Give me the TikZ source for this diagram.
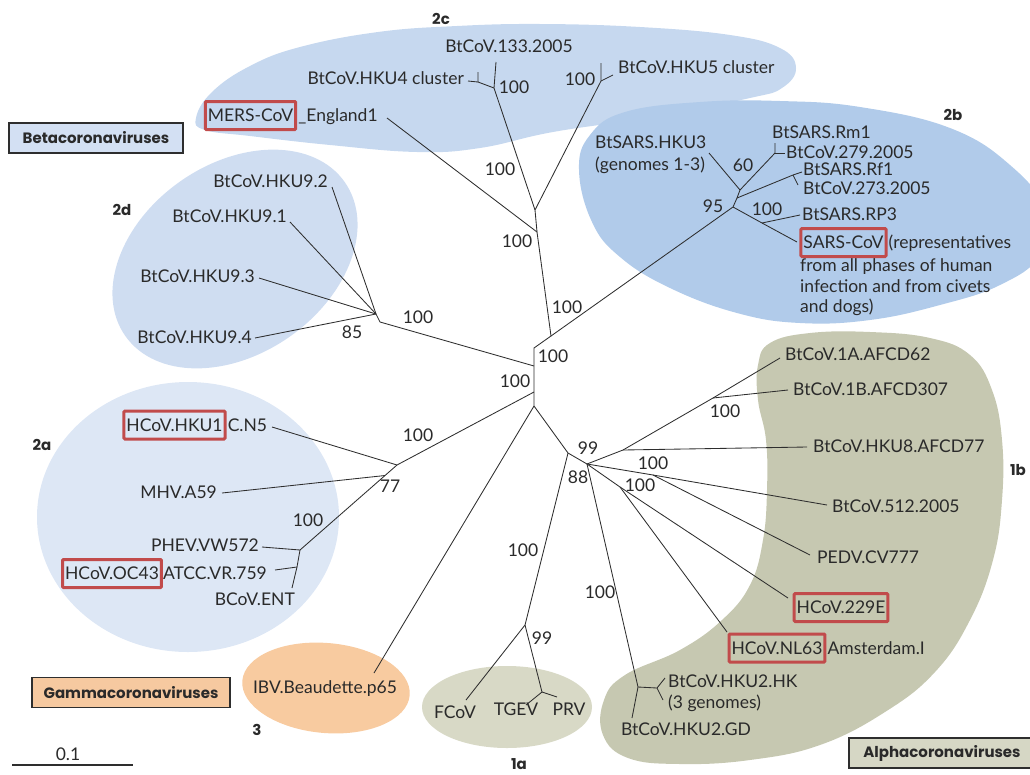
\documentclass[tikz,border=0pt]{standalone}
\usepackage{fontspec}
\setmainfont{Lato}
\newfontfamily\popf{Poppins}
\definecolor{linec}{HTML}{2E2E2E}
\definecolor{txt}{HTML}{2A2A2A}
\definecolor{bcC}{HTML}{C6D8EF}
\definecolor{bcB}{HTML}{B1CBEA}
\definecolor{bcD}{HTML}{CFDDF1}
\definecolor{bcA}{HTML}{DDE7F5}
\definecolor{orC}{HTML}{F8CBA0}
\definecolor{olA}{HTML}{D8D9C6}
\definecolor{olB}{HTML}{C6C8B1}
\definecolor{redc}{HTML}{C14B4B}
\definecolor{betaF}{HTML}{D3E0F3}
\definecolor{gamF}{HTML}{F6C9A0}
\definecolor{alpF}{HTML}{D6D7C5}
\newcommand\lf{\fontsize{17.5}{20.5}\selectfont}
\newcommand\bff{\fontsize{15}{20.5}\selectfont\popf\bfseries}
\newcommand\gbf{\fontsize{15}{20}\selectfont\popf\bfseries}
\begin{document}
\begin{tikzpicture}[x=1pt,y=-1pt,
  br/.style={draw=linec,line width=0.85pt},
  lab/.style={font=\lf,text=txt,inner sep=0pt},
  grp/.style={font=\bff,text=txt,inner sep=0pt},
  redbox/.style={draw=redc,line width=3pt,font=\lf,text=txt,inner xsep=2.5pt,inner ysep=0pt,minimum height=28pt,rounded corners=1pt},
  gbox/.style={draw=linec,line width=1.2pt,font=\gbf,text=txt,inner sep=0pt,minimum height=30pt}]
\useasboundingbox (0,0) rectangle (1030,774);
% ---------- blobs ----------
\begin{scope}
\clip (0,0) rectangle (1030,774);
\fill[bcC] plot[smooth cycle,tension=0.7] coordinates {(196,118) (212,92) (250,66) (300,47) (378,32) (457,26) (540,24) (640,27) (730,35) (780,48) (796,68) (782,88) (750,98) (653,117) (553,132) (480,148) (417,152) (330,145) (250,136) (205,130)};
\fill[bcB] plot[smooth cycle,tension=0.7] coordinates {(579,170) (590,135) (625,112) (700,102) (780,101) (860,107) (950,128) (1010,165) (1045,210) (1040,255) (1000,285) (940,305) (870,320) (800,323) (737,313) (670,288) (620,257) (592,222)};
\fill[bcD,rotate around={35:(235,259)}] (235,259) ellipse [x radius=134,y radius=95];
\fill[bcA] (188,517) ellipse [x radius=151,y radius=135];
\fill[orC,rotate around={-5:(326,688)}] (326,688) ellipse [x radius=84,y radius=45];
\fill[olA] (507,707) ellipse [x radius=85,y radius=41];
\fill[olB] plot[smooth cycle,tension=0.7] coordinates {(770,343) (810,333) (870,332) (930,338) (970,355) (992,390) (1002,440) (1002,500) (993,560) (970,620) (935,672) (885,712) (820,745) (750,760) (680,764) (628,758) (603,735) (604,700) (625,675) (680,650) (722,620) (750,585) (763,540) (767,490) (766,440) (758,400) (758,365)};
\end{scope}
% ---------- tree coordinates ----------
\coordinate (A) at (534,348);
\coordinate (B) at (551,336);
\coordinate (D2d) at (534,366);
\coordinate (D2a) at (534,392);
\coordinate (C) at (534,406);
\coordinate (N2c) at (537,232);
\coordinate (N2ct) at (535,210);
\coordinate (NH4) at (494,88);
\coordinate (p133) at (496,62);
\coordinate (H4f) at (478,82);
\coordinate (H4a) at (478,72);
\coordinate (H4b) at (468,81);
\coordinate (H5f) at (601,81);
\coordinate (H5a) at (601,63);
\coordinate (H5b) at (613,75);
\coordinate (pMERS) at (387,118);
\coordinate (N2b) at (733,207);
\coordinate (N2bA) at (737,198);
\coordinate (N2bB) at (740,190);
\coordinate (pHKU3) at (709,153);
\coordinate (Rmf) at (775,153);
\coordinate (Rma) at (775,143);
\coordinate (Rmb) at (785,153);
\coordinate (Rff) at (793,175);
\coordinate (Rfa) at (802,172);
\coordinate (Rfb) at (798,185);
\coordinate (NRP) at (762,223);
\coordinate (pRP3) at (800,215);
\coordinate (pSARS) at (797,242);
\coordinate (N2d) at (380,322);
\coordinate (N2dI) at (376,314);
\coordinate (p92) at (332,187);
\coordinate (p91) at (290,222);
\coordinate (p93) at (259,278);
\coordinate (p94) at (255,338);
\coordinate (N2a) at (397,465);
\coordinate (Nmhv) at (385,475.5);
\coordinate (NPH) at (300,550);
\coordinate (NAT) at (297,567);
\coordinate (pHKU1) at (272,427);
\coordinate (pMHV) at (222,493);
\coordinate (pPHEV) at (262,547);
\coordinate (pATCC) at (275,570);
\coordinate (pBCoV) at (292,588);
\coordinate (pIBV) at (374,673);
\coordinate (N1) at (568,453);
\coordinate (N1a) at (525,625);
\coordinate (NTP) at (542,692);
\coordinate (pFCoV) at (466,700);
\coordinate (pTGEV) at (526,705);
\coordinate (pPRV) at (557,697);
\coordinate (N1b) at (587,464);
\coordinate (NAF) at (623,450);
\coordinate (N1AB) at (713,398);
\coordinate (p1A) at (780,358);
\coordinate (p1B) at (788,390);
\coordinate (pHKU8) at (807,447);
\coordinate (N512) at (653,475);
\coordinate (p512) at (827,505);
\coordinate (pPEDV) at (810,555);
\coordinate (N229) at (620,487);
\coordinate (p229) at (788,598);
\coordinate (pNL63) at (727,632);
\coordinate (NH2) at (638,687);
\coordinate (pGD) at (632,718);
\coordinate (NHK) at (657,688);
\coordinate (HKa) at (665,678);
\coordinate (HKb) at (663,700);
\coordinate (sb1) at (12,765);
\coordinate (sb2) at (133,765);
% ---------- branches ----------
\draw[br] (B) -- (A) -- (D2d) -- (D2a) -- (C);
\draw[br] (B) -- (N2c) -- (N2ct) -- (NH4) -- (p133);
\draw[br] (NH4) -- (H4f) -- (H4a);
\draw[br] (H4f) -- (H4b);
\draw[br] (N2ct) -- (H5f) -- (H5a);
\draw[br] (H5f) -- (H5b);
\draw[br] (N2c) -- (pMERS);
\draw[br] (B) -- (N2b) -- (N2bA) -- (N2bB) -- (pHKU3);
\draw[br] (N2bB) -- (Rmf) -- (Rma);
\draw[br] (Rmf) -- (Rmb);
\draw[br] (N2bA) -- (Rff) -- (Rfa);
\draw[br] (Rff) -- (Rfb);
\draw[br] (N2b) -- (NRP) -- (pSARS);
\draw[br] (NRP) -- (pRP3);
\draw[br] (D2d) -- (N2d) -- (N2dI) -- (p92);
\draw[br] (N2dI) -- (p91);
\draw[br] (N2dI) -- (p93);
\draw[br] (N2dI) -- (p94);
\draw[br] (D2a) -- (N2a) -- (pHKU1);
\draw[br] (N2a) -- (Nmhv) -- (NPH) -- (pPHEV);
\draw[br] (Nmhv) -- (pMHV);
\draw[br] (NPH) -- (NAT) -- (pBCoV);
\draw[br] (NAT) -- (pATCC);
\draw[br] (C) -- (pIBV);
\draw[br] (C) -- (N1) -- (N1b);
\draw[br] (N1) -- (N1a) -- (pFCoV);
\draw[br] (N1a) -- (NTP) -- (pTGEV);
\draw[br] (NTP) -- (pPRV);
\draw[br] (N1b) -- (NAF) -- (pHKU8);
\draw[br] (NAF) -- (N1AB) -- (p1A);
\draw[br] (N1AB) -- (p1B);
\draw[br] (N1b) -- (N512) -- (p512);
\draw[br] (N512) -- (pPEDV);
\draw[br] (N1b) -- (N229) -- (p229);
\draw[br] (N229) -- (pNL63);
\draw[br] (N1b) -- (NH2) -- (pGD);
\draw[br] (NH2) -- (NHK) -- (HKa);
\draw[br] (NHK) -- (HKb);
\draw[draw=linec,line width=2.4pt] (sb1) -- (sb2);
% ---------- labels ----------
\node[grp] (l2c) at (441,19) {2c};
\node[lab,anchor=base] (t133) at (509,52.5) {BtCoV.133.2005};
\node[lab,anchor=base east] (tH4) at (464,84.5) {BtCoV.HKU4 cluster};
\node[lab] (b1) at (514,87) {100};
\node[lab] (b2) at (580,79) {100};
\node[lab,anchor=base west] (tH5) at (618,73.5) {BtCoV.HKU5 cluster};
\node[redbox] (bMERS) at (250.5,115.5) {MERS-CoV};
\node[lab,anchor=base west] (tEng) at ([xshift=1pt]bMERS.base east) {\_England1};
\node[gbox,minimum width=174pt,fill=betaF] (gBeta) at (96,138) {Betacoronaviruses};
\node[lab] (b3) at (500,169) {100};
\node[lab] (b4) at (517,241) {100};
\node[lab] (b5) at (567,307) {100};
\node[lab] (b6) at (553,356) {100};
\node[lab] (b7) at (515,381) {100};
\node[grp] (l2b) at (953,115) {2b};
\node[lab,anchor=base west,align=left,font=\fontsize{17.5}{22}\selectfont] (tHKU3) at (595,170.5) {BtSARS.HKU3\\(genomes 1-3)};
\node[lab] (b8) at (743,165) {60};
\node[lab,anchor=base west] (tRm1) at (772,138.5) {BtSARS.Rm1};
\node[lab,anchor=base west] (t279) at (786,158.5) {BtCoV.279.2005};
\node[lab,anchor=base west] (tRf1) at (803,175.5) {BtSARS.Rf1};
\node[lab,anchor=base west] (t273) at (803,194.5) {BtCoV.273.2005};
\node[lab] (b9) at (713,206) {95};
\node[lab] (b10) at (767,209) {100};
\node[lab,anchor=base west] (tRP3) at (802,220.5) {BtSARS.RP3};
\node[redbox] (bSARS) at (843.5,242.5) {SARS-CoV};
\node[lab,anchor=base west] (tRep) at ([xshift=1pt]bSARS.base east) {(representatives};
\node[lab,anchor=base west,align=left] (tRep2) at (800,312.5) {from all phases of human\\infection and from civets\\and dogs)};
\node[grp] (l2d) at (122,210) {2d};
\node[lab,anchor=base east] (t92) at (328,187.5) {BtCoV.HKU9.2};
\node[lab,anchor=base east] (t91) at (287,222.5) {BtCoV.HKU9.1};
\node[lab,anchor=base east] (t93) at (255,282.5) {BtCoV.HKU9.3};
\node[lab,anchor=base east] (t94) at (252,343.5) {BtCoV.HKU9.4};
\node[lab] (b11) at (352,332) {85};
\node[lab] (b12) at (418,317) {100};
\node[grp] (l2a) at (42,445) {2a};
\node[redbox] (bHKU1) at (174.5,425) {HCoV.HKU1};
\node[lab,anchor=base west] (tCN5) at ([xshift=1pt]bHKU1.base east) {C.N5};
\node[lab] (b13) at (418,435) {100};
\node[lab,anchor=base east] (tMHV) at (217,498.5) {MHV.A59};
\node[lab] (b14) at (390,486) {77};
\node[lab] (b15) at (308,520) {100};
\node[lab,anchor=base east] (tPHEV) at (259,551.5) {PHEV.VW572};
\node[redbox] (bOC43) at (112,573.5) {HCoV.OC43};
\node[lab,anchor=base west] (tATCC) at ([xshift=0pt]bOC43.base east) {ATCC.VR.759};
\node[lab,anchor=base east] (tBCoV) at (295,605.5) {BCoV.ENT};
\node[lab,anchor=base] (tIBV) at (325,693.5) {IBV.Beaudette.p65};
\node[grp] (l3) at (257,730) {3};
\node[gbox,minimum width=198pt,fill=gamF] (gGam) at (131,692.5) {Gammacoronaviruses};
\node[lab] (tsc) at (68,754) {0.1};
\node[lab,anchor=base] (tFCoV) at (455,718.5) {FCoV};
\node[lab,anchor=base] (tTGEV) at (516,715.5) {TGEV};
\node[lab,anchor=base] (tPRV) at (569,715.5) {PRV};
\node[lab] (b16) at (542,638) {99};
\node[grp] (l1a) at (519,764) {1a};
\node[lab] (b17) at (523,550) {100};
\node[lab] (b18) at (600,592) {100};
\node[lab,anchor=base west,align=left,font=\fontsize{17.5}{21}\selectfont] (tHK) at (668,708.5) {BtCoV.HKU2.HK\\(3 genomes)};
\node[lab,anchor=base] (tGD) at (686,735.5) {BtCoV.HKU2.GD};
\node[redbox] (bNL63) at (777,648) {HCoV.NL63};
\node[lab,anchor=base west] (tAms) at ([xshift=1pt]bNL63.base east) {Amsterdam.I};
\node[redbox] (b229) at (841,607.5) {HCoV.229E};
\node[gbox,minimum width=186pt,fill=alpF] (gAlp) at (942,753) {Alphacoronaviruses};
\node[grp] (l1b) at (1018,470) {1b};
\node[lab,anchor=base west] (t1A) at (785,360.5) {BtCoV.1A.AFCD62};
\node[lab,anchor=base west] (t1B) at (793,395.5) {BtCoV.1B.AFCD307};
\node[lab,anchor=base west] (tHKU8) at (813,452.5) {BtCoV.HKU8.AFCD77};
\node[lab,anchor=base west] (t512) at (832,512.5) {BtCoV.512.2005};
\node[lab,anchor=base west] (tPEDV) at (817,563.5) {PEDV.CV777};
\node[lab] (b19) at (725,411) {100};
\node[lab] (b20) at (588,448) {99};
\node[lab] (b21) at (653,463) {100};
\node[lab] (b22) at (578,477) {88};
\node[lab] (b23) at (640,485) {100};
\end{tikzpicture}
\end{document}
